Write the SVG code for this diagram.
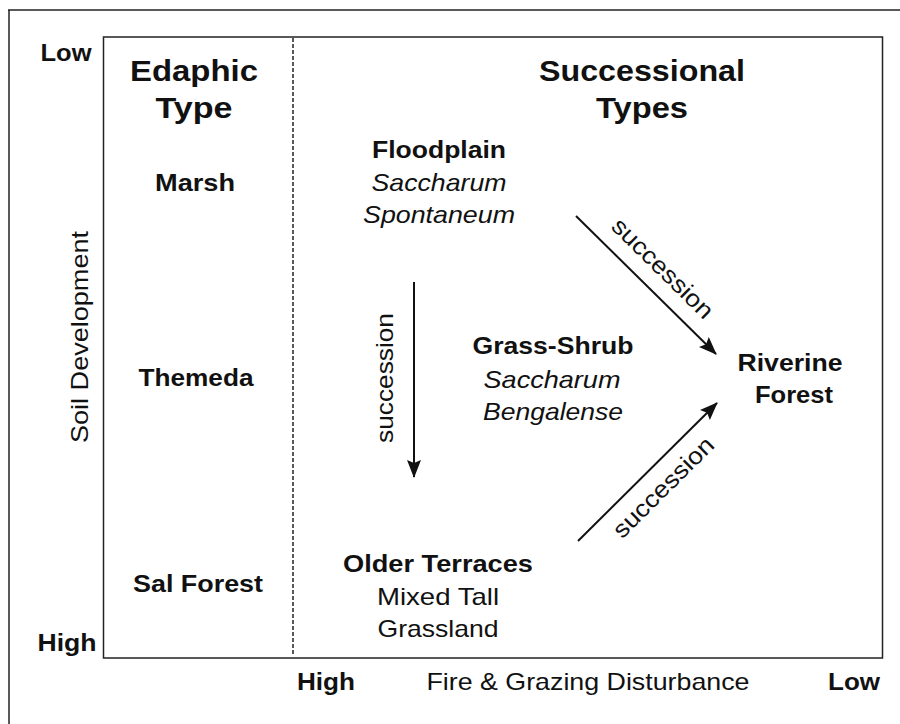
<svg xmlns="http://www.w3.org/2000/svg" width="900" height="724" viewBox="0 0 900 724">
<style>
text{font-family:"Liberation Sans",Arial,Helvetica,sans-serif;fill:#111;}
.h{font-size:29px;font-weight:bold;text-anchor:middle;}
.b{font-size:24px;font-weight:bold;text-anchor:middle;}
.r{font-size:24px;text-anchor:middle;}
.i{font-size:24px;font-style:italic;text-anchor:middle;}
.frame{fill:none;stroke:#222;stroke-width:1.5;}
.conn{stroke:#111;stroke-width:2;fill:none;}
</style>
<defs>
<marker id="arr" markerUnits="userSpaceOnUse" markerWidth="20" markerHeight="16" refX="17" refY="7" orient="auto">
<path d="M0,0 L18,7 L0,14 L3,7 z" fill="#111"/>
</marker>
</defs>
<rect width="900" height="724" fill="#fff"/>
<g id="frame">
<line x1="8" y1="10" x2="900" y2="10" class="frame"/>
<line x1="9" y1="10" x2="9" y2="724" class="frame"/>
<rect x="103.5" y="37" width="779" height="621" class="frame"/>
<line x1="293" y1="38" x2="293" y2="656" stroke="#222" stroke-width="1.5" stroke-dasharray="4 2"/>
</g>
<g id="axes">
<text class="b" x="66" y="61" textLength="51" lengthAdjust="spacingAndGlyphs">Low</text>
<text class="b" x="67" y="651" textLength="59" lengthAdjust="spacingAndGlyphs">High</text>
<text class="r" transform="translate(88,337) rotate(-90)" textLength="212" lengthAdjust="spacingAndGlyphs">Soil Development</text>
<text class="b" x="326" y="690" textLength="58" lengthAdjust="spacingAndGlyphs">High</text>
<text class="r" x="588" y="690" textLength="323" lengthAdjust="spacingAndGlyphs">Fire &amp; Grazing Disturbance</text>
<text class="b" x="854" y="690" textLength="52" lengthAdjust="spacingAndGlyphs">Low</text>
</g>
<g id="header-edaphic">
<text class="h" x="194" y="81" textLength="128" lengthAdjust="spacingAndGlyphs">Edaphic</text>
<text class="h" x="194" y="118" textLength="77" lengthAdjust="spacingAndGlyphs">Type</text>
</g>
<g id="header-successional">
<text class="h" x="642" y="81" textLength="206" lengthAdjust="spacingAndGlyphs">Successional</text>
<text class="h" x="642" y="118" textLength="92" lengthAdjust="spacingAndGlyphs">Types</text>
</g>
<g id="marsh"><text class="b" x="195" y="191" textLength="80" lengthAdjust="spacingAndGlyphs">Marsh</text></g>
<g id="themeda"><text class="b" x="196" y="386" textLength="115" lengthAdjust="spacingAndGlyphs">Themeda</text></g>
<g id="sal-forest"><text class="b" x="198" y="592" textLength="130" lengthAdjust="spacingAndGlyphs">Sal Forest</text></g>
<g id="floodplain">
<text class="b" x="439" y="158" textLength="134" lengthAdjust="spacingAndGlyphs">Floodplain</text>
<text class="i" x="439" y="191" textLength="135" lengthAdjust="spacingAndGlyphs">Saccharum</text>
<text class="i" x="439" y="223" textLength="152" lengthAdjust="spacingAndGlyphs">Spontaneum</text>
</g>
<g id="grass-shrub">
<text class="b" x="553" y="354" textLength="161" lengthAdjust="spacingAndGlyphs">Grass-Shrub</text>
<text class="i" x="552" y="388" textLength="137" lengthAdjust="spacingAndGlyphs">Saccharum</text>
<text class="i" x="553" y="420" textLength="140" lengthAdjust="spacingAndGlyphs">Bengalense</text>
</g>
<g id="riverine-forest">
<text class="b" x="790" y="371" textLength="105" lengthAdjust="spacingAndGlyphs">Riverine</text>
<text class="b" x="794" y="403" textLength="78" lengthAdjust="spacingAndGlyphs">Forest</text>
</g>
<g id="older-terraces">
<text class="b" x="438" y="572" textLength="190" lengthAdjust="spacingAndGlyphs">Older Terraces</text>
<text class="r" x="438" y="605" textLength="122" lengthAdjust="spacingAndGlyphs">Mixed Tall</text>
<text class="r" x="438" y="637" textLength="121" lengthAdjust="spacingAndGlyphs">Grassland</text>
</g>
<g id="connectors">
<line x1="414" y1="282" x2="414" y2="477" class="conn" marker-end="url(#arr)"/>
<text class="r" transform="translate(393,378) rotate(-90)" textLength="130" lengthAdjust="spacingAndGlyphs">succession</text>
<line x1="576" y1="216" x2="716" y2="354" class="conn" marker-end="url(#arr)"/>
<text class="r" transform="translate(657,274) rotate(44.6)" textLength="132" lengthAdjust="spacingAndGlyphs">succession</text>
<line x1="578" y1="541" x2="717" y2="403" class="conn" marker-end="url(#arr)"/>
<text class="r" transform="translate(669,493) rotate(-44.8)" textLength="132" lengthAdjust="spacingAndGlyphs">succession</text>
</g>
</svg>
